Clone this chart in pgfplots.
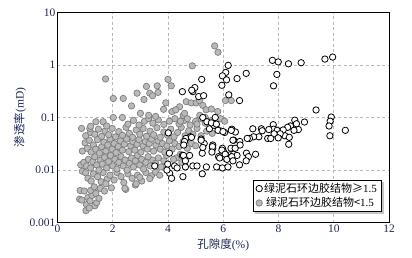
\documentclass[border=0pt]{standalone}
\usepackage{fontspec}
\setmainfont{Liberation Serif}
\newfontfamily\cjk{Noto Sans CJK SC}
\usepackage{pgfplots}
\usepackage{pgfplotstable}
\pgfplotsset{compat=1.18}
\usetikzlibrary{shadows}
\definecolor{navy}{RGB}{28,40,85}
\definecolor{gfill}{RGB}{185,185,185}
\definecolor{gdraw}{RGB}{125,125,125}

\pgfplotstableread{
x y
0.80 0.0028
0.82 0.0041
0.97 0.0040
0.88 0.0027
1.03 0.0017
1.05 0.0022
1.10 0.0030
1.18 0.0026
1.25 0.0033
1.20 0.0041
1.35 0.0021
1.42 0.0024
1.39 0.0036
1.50 0.0029
1.55 0.0045
1.33 0.0048
1.70 0.0040
1.95 0.0046
2.47 0.0043
1.15 0.0019
2.44 0.0045
2.82 0.0052
0.90 0.0095
0.84 0.0126
1.02 0.0089
1.10 0.0070
1.22 0.0062
1.30 0.0085
1.45 0.0075
1.58 0.0060
1.65 0.0090
1.80 0.0068
1.90 0.0080
2.05 0.0065
2.15 0.0090
2.30 0.0075
2.40 0.0058
2.55 0.0085
2.70 0.0070
2.90 0.0080
3.05 0.0062
3.20 0.0090
3.40 0.0078
3.55 0.0092
2.85 0.0055
1.75 0.0055
3.70 0.0080
2.98 0.0073
3.34 0.0069
0.95 0.0140
1.05 0.0120
1.12 0.0160
1.20 0.0110
1.28 0.0145
1.35 0.0180
1.42 0.0125
1.50 0.0100
1.55 0.0155
1.62 0.0130
1.70 0.0175
1.78 0.0110
1.85 0.0145
1.92 0.0190
2.00 0.0120
2.08 0.0160
2.15 0.0105
2.22 0.0140
2.30 0.0180
2.38 0.0120
2.45 0.0155
2.52 0.0100
2.60 0.0135
2.68 0.0170
2.75 0.0115
2.82 0.0150
2.90 0.0190
2.98 0.0125
3.05 0.0160
3.12 0.0105
3.20 0.0140
3.28 0.0180
3.36 0.0120
3.45 0.0155
3.55 0.0135
3.65 0.0170
3.75 0.0115
3.85 0.0150
3.95 0.0190
4.30 0.0170
4.50 0.0140
4.70 0.0180
4.20 0.0160
4.45 0.0200
0.90 0.0230
1.00 0.0330
1.08 0.0260
1.15 0.0370
1.22 0.0220
1.30 0.0300
1.38 0.0250
1.45 0.0380
1.52 0.0210
1.60 0.0280
1.68 0.0340
1.75 0.0230
1.82 0.0300
1.90 0.0390
1.98 0.0250
2.05 0.0320
2.12 0.0215
2.20 0.0280
2.28 0.0360
2.35 0.0240
2.42 0.0310
2.50 0.0390
2.58 0.0225
2.65 0.0290
2.72 0.0350
2.80 0.0240
2.88 0.0310
2.95 0.0380
3.02 0.0220
3.10 0.0290
3.18 0.0350
3.25 0.0250
3.32 0.0320
3.40 0.0390
3.48 0.0230
3.56 0.0300
3.64 0.0360
3.72 0.0250
3.80 0.0320
3.88 0.0220
3.96 0.0290
4.05 0.0360
4.15 0.0250
4.25 0.0320
4.40 0.0280
4.55 0.0350
4.70 0.0260
4.85 0.0320
5.00 0.0290
1.02 0.0450
1.20 0.0520
1.35 0.0480
1.48 0.0600
1.60 0.0440
1.72 0.0550
1.85 0.0470
1.98 0.0620
2.10 0.0430
2.22 0.0540
2.35 0.0460
2.48 0.0650
2.60 0.0500
2.72 0.0420
2.85 0.0580
2.98 0.0480
3.10 0.0620
3.22 0.0440
3.35 0.0550
3.48 0.0470
3.60 0.0640
3.72 0.0420
3.85 0.0530
3.98 0.0460
4.10 0.0600
4.22 0.0430
4.35 0.0520
4.48 0.0650
4.62 0.0450
4.75 0.0560
4.90 0.0480
5.05 0.0620
5.20 0.0450
5.40 0.0550
5.60 0.0500
5.85 0.0580
0.87 0.0620
1.17 0.0620
1.20 0.0680
1.39 0.0830
1.65 0.0830
1.78 0.0690
2.02 0.1000
2.35 0.1000
2.55 0.0750
2.75 0.0880
2.95 0.0720
3.15 0.0850
3.30 0.0950
3.45 0.0780
3.65 0.0900
3.85 0.0740
4.05 0.0850
4.25 0.0950
4.40 0.0760
4.60 0.0880
4.80 0.0720
5.00 0.0850
5.20 0.0950
5.35 0.0780
5.55 0.0870
5.75 0.0740
4.45 0.0850
4.55 0.1100
4.70 0.0950
5.05 0.0750
5.15 0.1100
5.35 0.1000
5.80 0.1300
5.90 0.0950
6.05 0.0850
3.30 0.1100
3.00 0.1200
3.55 0.1050
3.84 0.1430
3.92 0.1900
4.15 0.1300
4.42 0.1600
4.28 0.1400
4.60 0.1200
4.66 0.2000
4.84 0.1900
5.02 0.1900
5.14 0.2100
5.26 0.1700
5.38 0.1400
5.57 0.1450
2.68 0.1660
2.02 0.2300
2.38 0.2300
2.88 0.2900
3.13 0.2200
3.34 0.2900
3.44 0.2600
3.64 0.3000
3.61 0.4000
3.22 0.3900
4.00 0.5300
4.12 0.4000
6.08 0.2100
6.29 0.2100
1.74 0.5400
4.88 0.9600
5.69 2.3000
5.81 1.7400
}\graytab

\pgfplotstableread{
x y
6.18 0.98
6.09 0.72
5.97 0.62
6.12 0.52
5.95 0.41
5.22 0.53
6.50 0.55
6.83 0.69
7.78 1.22
7.99 1.14
8.36 1.05
8.82 1.10
9.68 1.29
9.96 1.41
7.94 0.66
7.82 0.40
4.52 0.31
4.90 0.31
4.97 0.37
4.86 0.33
5.11 0.25
5.29 0.26
6.20 0.27
6.59 0.21
9.36 0.139
9.91 0.102
9.87 0.085
9.83 0.069
9.86 0.045
10.42 0.057
8.94 0.082
8.59 0.089
8.65 0.076
8.43 0.069
8.72 0.059
8.56 0.057
8.33 0.065
8.23 0.045
8.39 0.042
8.37 0.031
7.81 0.073
7.83 0.060
7.95 0.057
8.17 0.058
8.06 0.049
7.84 0.049
7.99 0.041
7.65 0.059
7.38 0.061
7.41 0.056
7.07 0.061
7.29 0.043
7.10 0.043
6.95 0.040
6.87 0.040
7.61 0.040
7.72 0.040
6.31 0.060
6.44 0.053
6.05 0.052
6.38 0.037
6.60 0.035
6.61 0.030
6.28 0.026
6.43 0.026
5.97 0.026
6.02 0.022
6.29 0.020
6.37 0.020
6.84 0.021
7.17 0.020
6.91 0.018
6.83 0.015
6.59 0.0126
6.50 0.019
5.83 0.018
5.96 0.018
5.62 0.030
5.62 0.026
5.20 0.039
5.31 0.032
5.50 0.061
5.67 0.071
5.71 0.100
5.26 0.100
5.41 0.083
4.81 0.043
4.65 0.040
4.52 0.019
4.78 0.019
5.24 0.021
5.57 0.079
5.75 0.075
5.81 0.057
4.01 0.051
4.60 0.035
4.85 0.042
4.57 0.030
5.20 0.037
5.26 0.027
5.61 0.028
5.59 0.022
5.95 0.024
6.07 0.020
5.87 0.017
6.13 0.016
6.31 0.018
4.05 0.021
4.56 0.019
4.63 0.015
4.24 0.012
3.99 0.013
4.33 0.011
4.06 0.0087
4.13 0.0070
3.96 0.010
4.54 0.0075
4.63 0.0115
4.90 0.012
5.05 0.012
5.39 0.0115
5.24 0.0085
3.52 0.012
5.76 0.0115
5.97 0.011
6.17 0.0115
6.35 0.015
5.99 0.054
6.29 0.057
6.35 0.037
}\whitetab

\begin{document}
\begin{tikzpicture}
\begin{axis}[
  scale only axis, width=331.5pt, height=210.4pt,
  ymode=log, xmin=0, xmax=12, ymin=0.001, ymax=10,
  xtick={0,2,4,6,8,10,12},
  xticklabels={0,2,4,6,8,10,12},
  ytick={0.001,0.01,0.1,1,10},
  yticklabels={0.001,0.01,0.1,1,10},
  tick style={draw=none},
  grid=major,
  grid style={dash pattern=on 3pt off 2.5pt, color=black!28, line width=0.8pt},
  axis line style={line width=0.9pt},
  /pgf/number format/assume math mode=true,
  ticklabel style={font=\fontsize{11.5}{13}\selectfont, text=navy},
  xticklabel style={yshift=1pt},
  yticklabel style={xshift=1.5pt},
  xlabel={{\cjk 孔隙度}(\%)},
  ylabel={{\cjk 渗透率}(mD)},
  label style={font=\fontsize{11.5}{13}\selectfont, text=navy},
  x label style={at={(axis description cs:0.5,0)}, anchor=center, yshift=-22.3pt},
  y label style={at={([xshift=-37.5pt]axis description cs:0,0.5)}, anchor=center},
  legend style={at={(0.979,0.051)}, anchor=south east, draw=black, line width=0.6pt,
    fill=white, drop shadow={shadow xshift=2pt, shadow yshift=-2pt, fill=black!45},
    font=\fontsize{11}{12}\selectfont, row sep=0pt, inner xsep=3pt, inner ysep=1.5pt,
    nodes={inner sep=1.8pt}},
  legend cell align=left,
]
\addplot[only marks, mark=*, mark size=3.2pt, mark options={fill=gfill, draw=gdraw, line width=0.7pt}, forget plot] table[x=x,y=y] {\graytab};
\addplot[only marks, mark=*, mark size=3.2pt, mark options={fill=white, draw=black, line width=0.8pt}] table[x=x,y=y] {\whitetab};
\addlegendentry{{\cjk 绿泥石环边胶结物≥}1.5}
\addlegendimage{only marks, mark=*, mark size=3.2pt, mark options={fill=gfill, draw=gdraw, line width=0.7pt}}
\addlegendentry{\,{\cjk 绿泥石环边胶结物<}1.5}
\end{axis}
\pgfresetboundingbox
\path[use as bounding box] (-57.5pt,-34.3pt) rectangle (354.5pt,222.7pt);
\end{tikzpicture}
\end{document}
